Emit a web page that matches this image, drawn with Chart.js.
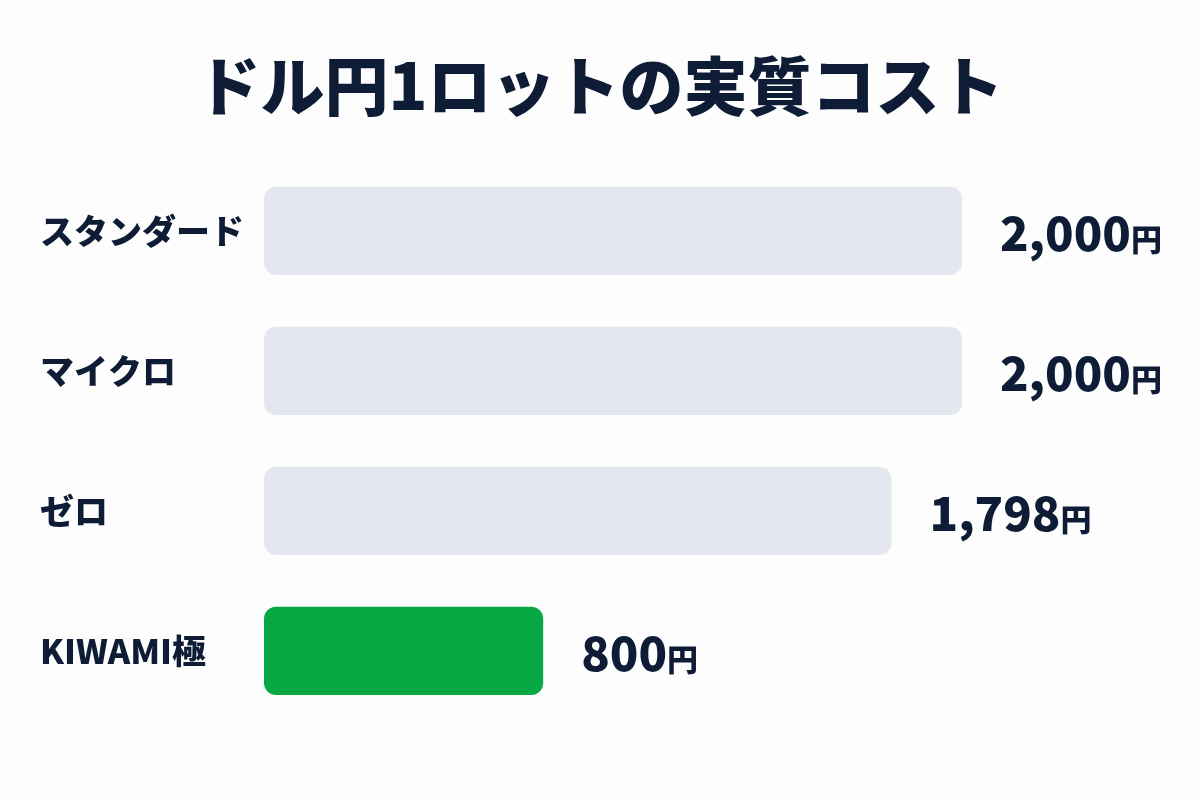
<!DOCTYPE html>
<html>
<head>
<meta charset="utf-8">
<script src="https://cdn.jsdelivr.net/npm/chart.js@4.4.1/dist/chart.umd.min.js"></script>
<style>
  body { margin: 0; background: #fdfdfd; }
  canvas { display: block; }
</style>
</head>
<body>
<canvas id="costChart" width="1200" height="800"></canvas>
<script>
const categories = ['スタンダード', 'マイクロ', 'ゼロ', 'KIWAMI極'];
const costs = [2000, 2000, 1798, 800];
const barColors = ['#e4e7ef', '#e4e7ef', '#e4e7ef', '#06a843'];

const navy = '#0e1c36';
const jpFont = '"Noto Sans CJK JP", "Noto Sans", sans-serif';

// value labels to the right of each bar: number + smaller 円
const valueLabels = {
    id: 'valueLabels',
    afterDatasetsDraw(chart) {
        const ctx = chart.ctx;
        const meta = chart.getDatasetMeta(0);
        ctx.save();
        ctx.fillStyle = navy;
        ctx.textBaseline = 'alphabetic';
        meta.data.forEach((bar, i) => {
            const num = costs[i].toLocaleString('en-US');
            const x = bar.x + 38;
            const y = bar.y + 20;
            ctx.font = '800 47px ' + jpFont;
            ctx.fillText(num, x, y);
            const w = ctx.measureText(num).width;
            ctx.font = '800 31px ' + jpFont;
            ctx.fillText('円', x + w, y);
        });
        ctx.restore();
    }
};

new Chart(document.getElementById('costChart').getContext('2d'), {
    type: 'bar',
    data: {
        labels: categories,
        datasets: [{
            data: costs,
            backgroundColor: barColors,
            borderRadius: 12,
            borderSkipped: false,
            barPercentage: 0.9,
            categoryPercentage: 0.7
        }]
    },
    options: {
        indexAxis: 'y',
        responsive: false,
        animation: false,
        layout: { padding: { left: 40, right: 40, bottom: 79 } },
        plugins: {
            legend: { display: false },
            tooltip: { enabled: false },
            title: {
                display: true,
                text: 'ドル円1ロットの実質コスト',
                color: navy,
                font: { family: jpFont, size: 64, weight: '900', lineHeight: 1.2 },
                padding: { top: 47, bottom: 37 }
            }
        },
        scales: {
            x: {
                min: 0,
                max: 2000,
                display: false
            },
            y: {
                grid: { display: false },
                border: { display: false },
                afterFit(axis) { axis.width = 224; },
                ticks: {
                    crossAlign: 'far',
                    color: navy,
                    padding: 0,
                    font: { family: jpFont, size: 34, weight: '800' }
                }
            },
            // empty right-hand axis reserves room for the value labels
            yRight: {
                position: 'right',
                grid: { display: false },
                border: { display: false },
                ticks: { display: false },
                afterFit(axis) { axis.width = 198; }
            }
        }
    },
    plugins: [valueLabels]
});
</script>
</body>
</html>
